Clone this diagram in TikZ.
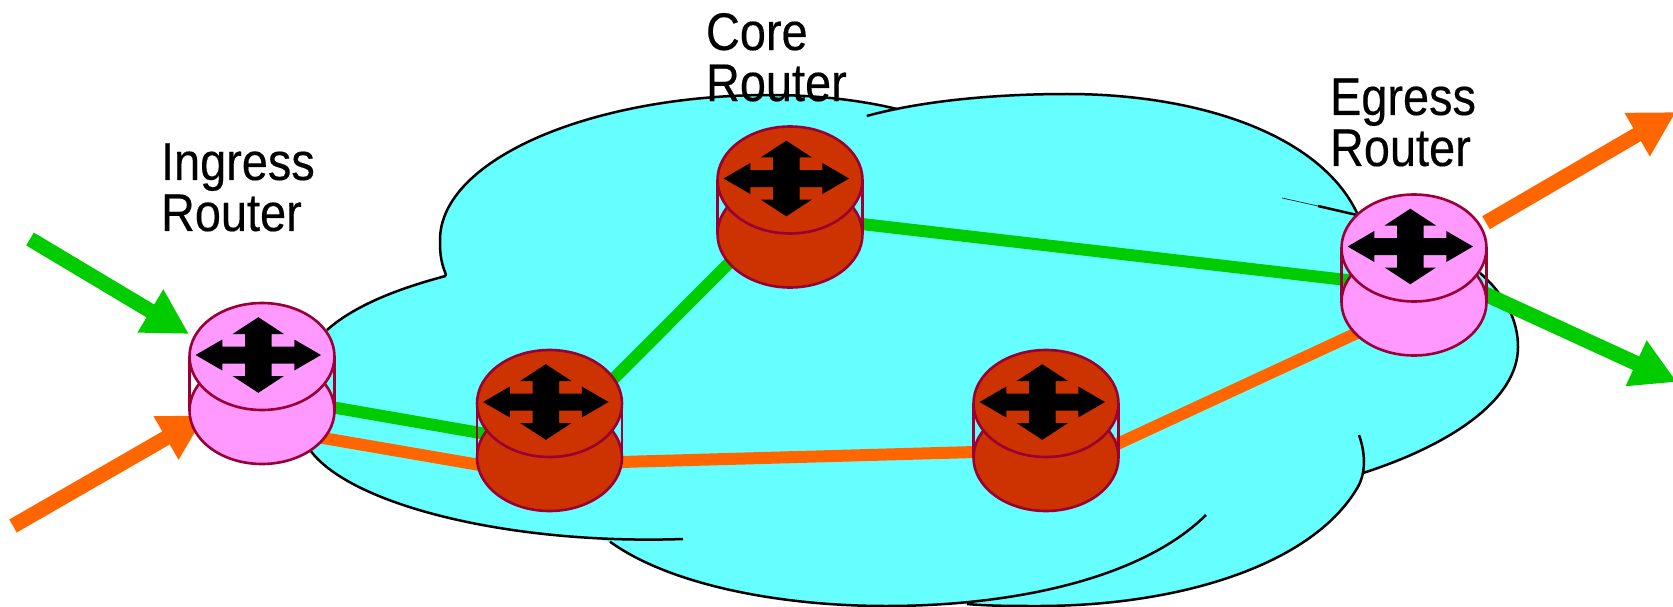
\documentclass[tikz,border=0pt]{standalone}
\usepackage{fontspec}
\setmainfont[FakeStretch=0.885,FakeBold=0.3]{Liberation Sans}
\usetikzlibrary{arrows.meta,calc}
\definecolor{cloudc}{HTML}{66FFFF}
\definecolor{greenl}{HTML}{00CC00}
\definecolor{orangel}{HTML}{FF6600}
\definecolor{pinkr}{HTML}{FF99FF}
\definecolor{darkr}{HTML}{CC3300}
\definecolor{edger}{HTML}{990033}
\tikzset{
  anchorbox/.style={inner sep=0pt,outer sep=0pt,minimum width=145pt,minimum height=160pt},
  cloudfill/.style={fill=cloudc,draw=cloudc,line width=1pt},
  cloudline/.style={draw=black,line width=2.5pt,line cap=butt},
  link/.style={line width=12pt},
  glink/.style={link,draw=greenl},
  olink/.style={link,draw=orangel},
  ext/.style={line width=15pt,-{Triangle[width=47pt,length=45pt]}},
  lbl/.style={font=\fontsize{53pt}{51pt}\selectfont,align=left,inner sep=0pt,outer sep=0pt,anchor=north west,text=black},
  routerline/.style={draw=edger,line width=2.6pt}
}
\newcommand{\drawrouter}[2]{%
  \begin{scope}[shift={(#1)}]
    \path[routerline,fill=#2] (0,27) ellipse [x radius=72.5pt,y radius=53.5pt];
    \draw[routerline] (-72.5,-27) -- (-72.5,27) (72.5,-27) -- (72.5,27);
    \path[routerline,fill=#2] (0,-27) ellipse [x radius=72.5pt,y radius=53.5pt];
    \begin{scope}[shift={(-3.7,-28.5)}]
      \fill[black] (-62.7,0) -- (-36,-15.5) -- (-36,-8.5) -- (-13.3,-8.5) -- (-13.3,-21) -- (-25.7,-21)
        -- (0,-37.8) -- (25.7,-21) -- (13.3,-21) -- (13.3,-8.5) -- (36,-8.5) -- (36,-15.5)
        -- (62.7,0) -- (36,15.5) -- (36,8.5) -- (13.3,8.5) -- (13.3,21) -- (25.7,21)
        -- (0,37.8) -- (-25.7,21) -- (-13.3,21) -- (-13.3,8.5) -- (-36,8.5) -- (-36,15.5) -- cycle;
    \end{scope}
  \end{scope}}
\begin{document}
\begin{tikzpicture}[x=1pt,y=-1pt]
\useasboundingbox (0,0) rectangle (1673,607);
\clip (0,0) rectangle (1673,607);
% router anchors
\node[anchorbox] (ing) at (262,383.5) {};
\node[anchorbox] (lowa) at (549.5,430.5) {};
\node[anchorbox] (lowb) at (1046,430.5) {};
\node[anchorbox] (core) at (790,207) {};
\node[anchorbox] (egr) at (1414,275) {};
\coordinate (ginstart) at (30,239);
\coordinate (oinstart) at (13,526);
\coordinate (gouttip) at (1677,382);
\coordinate (oouttip) at (1676,112);
% cloud fill
\path[cloudfill] (445.7,274) -- (897,109) -- (1357,213) -- (1480,273) -- (1363,473) -- (1356,490) -- (1038,605) -- (967,603) -- (610,541.7) -- (310,450) -- (327,330) -- cycle;
\path[cloudfill] (445.7,274) .. controls (440,260) and (440,250) .. (440,240) .. controls (440,160) and (590,95) .. (770,95) .. controls (815,95) and (860,100) .. (897,109) -- cycle;
\path[cloudfill] (866.7,116) .. controls (925,100) and (1000,94) .. (1067,94) .. controls (1200,94) and (1320,135) .. (1357,213) -- cycle;
\path[cloudfill] (1480,273) .. controls (1505,295) and (1518,320) .. (1518,347) .. controls (1518,400) and (1450,445) .. (1363,473) -- cycle;
\path[cloudfill] (1363,473) -- (1356,490) .. controls (1310,565) and (1180,606) .. (1038,606) .. controls (1012,606) and (990,606) .. (967,604) -- cycle;
\path[cloudfill] (610,541.7) .. controls (670,585) and (780,606) .. (886,606) .. controls (1010,606) and (1140,580) .. (1206,515) -- cycle;
\path[cloudfill] (310,450) .. controls (350,505) and (510,545) .. (683,539) -- cycle;
\path[cloudfill] (327,330) .. controls (355,305) and (400,288) .. (445.7,276) -- cycle;
% cloud outline pieces
\draw[cloudline] (327,330) .. controls (355,305) and (400,288) .. (445.7,276);
\draw[cloudline] (445.7,276) -- (445.7,274) .. controls (440,260) and (440,250) .. (440,240) .. controls (440,160) and (590,95) .. (770,95) .. controls (815,95) and (860,100) .. (897,109);
\draw[cloudline] (866.7,116) .. controls (925,100) and (1000,94) .. (1067,94) .. controls (1200,94) and (1320,135) .. (1357,213);
\draw[draw=black,line width=0.6pt] (1282,198) -- (1318,206);
\draw[cloudline] (1318,206) -- (1357,215);
\draw[cloudline] (1480,273) .. controls (1505,295) and (1518,320) .. (1518,347) .. controls (1518,400) and (1450,445) .. (1363,473);
\draw[cloudline] (1359,435) .. controls (1366,455) and (1366,475) .. (1356,490) .. controls (1310,565) and (1180,606) .. (1038,606) .. controls (1012,606) and (990,606) .. (967,604);
\draw[cloudline] (610,541.7) .. controls (670,585) and (780,606) .. (886,606) .. controls (1010,606) and (1140,580) .. (1206,515);
\draw[cloudline] (310,450) .. controls (350,505) and (510,545) .. (683,539);
% links
\draw[glink] ([yshift=-11.5pt]ing.center) -- ([yshift=-14.5pt]lowa.center);
\draw[olink] ([yshift=-44pt]ing.center) -- ([yshift=-46.5pt]lowa.center);
\draw[glink] ([yshift=-12.5pt]lowa.center) -- ([yshift=5pt]core.center);
\draw[glink] ([yshift=-8.7pt]core.center) -- ([yshift=-12.8pt]egr.center);
\draw[olink] ([yshift=-33.5pt]lowa.center) -- ([yshift=-19.5pt]lowb.center);
\draw[olink] ([yshift=-46.5pt]lowb.center) -- ([yshift=-31.6pt]egr.center);
% external arrows
\draw[ext,draw=greenl,fill=greenl] (ginstart) -- ([xshift=-73pt,yshift=49.5pt]ing.center);
\draw[ext,draw=orangel,fill=orangel] (oinstart) -- ([xshift=-57pt,yshift=-32pt]ing.center);
\draw[ext,draw=greenl,fill=greenl] ([yshift=13.6pt]egr.center) -- (gouttip);
\draw[ext,draw=orangel,fill=orangel] ([xshift=72pt,yshift=52.3pt]egr.center) -- (oouttip);
% routers
\drawrouter{ing.center}{pinkr}
\drawrouter{lowa.center}{darkr}
\drawrouter{lowb.center}{darkr}
\drawrouter{core.center}{darkr}
\drawrouter{egr.center}{pinkr}
% labels
\node[lbl] (lcore) at (706,13) {Core\\Router};
\node[lbl] (ling) at (161,143.5) {Ingress\\Router};
\node[lbl] (legr) at (1330,78.5) {Egress\\Router};
\end{tikzpicture}
\end{document}
